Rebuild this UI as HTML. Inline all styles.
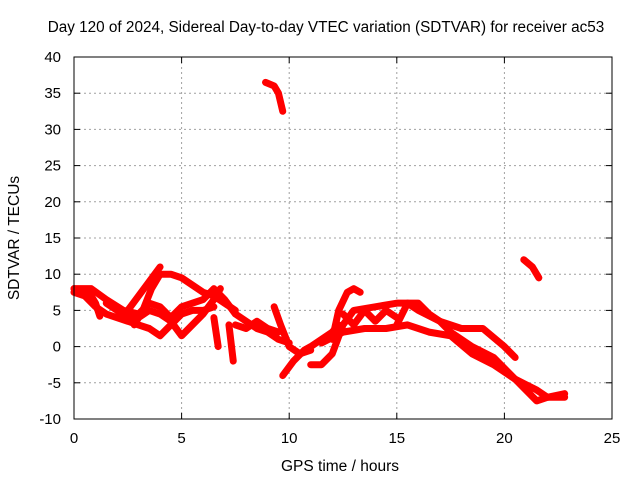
<!DOCTYPE html>
<html><head><meta charset="utf-8"><style>
body{margin:0;background:#fff}
text{font-family:"Liberation Sans",sans-serif;font-size:15px;fill:#000}
</style></head><body>
<svg id="chart" width="640" height="480" xmlns="http://www.w3.org/2000/svg">
<text x="326" y="32" text-anchor="middle" style="font-size:15.3px">Day 120 of 2024, Sidereal Day-to-day VTEC variation (SDTVAR) for receiver ac53</text>
<text x="340" y="471" text-anchor="middle" style="font-size:15.5px">GPS time / hours</text>
<text transform="translate(19,238) rotate(-90)" text-anchor="middle" style="font-size:15.5px">SDTVAR / TECUs</text>
<g id="grid"></g><g id="marks"></g>
<rect x="74" y="57" width="538" height="362" fill="none" stroke="#000" stroke-width="1"/>
</svg>
<script>
const xTicks=[0,5,10,15,20,25];
const yTicks=[-10,-5,0,5,10,15,20,25,30,35,40];
const track1=[[0,8],[0.8,8],[1.5,6.5],[2.3,5],[3,4.5],[3.5,6],[4,5.5],[4.5,4],[5,5.5],[5.5,6],[6,6.5],[6.5,8],[7,6.5],[7.5,4.5],[8,3.5],[8.5,2.5],[9,2],[9.5,1],[10,0.5]];
const track2=[[0,7.5],[0.5,7],[1,5.5],[1.5,4.5],[2,4],[2.5,3.5],[3,3],[3.5,2.5],[4,1.5],[4.5,3],[5,4.5],[5.5,5],[6,5],[6.5,5.5]];
const track3=[[2.8,3],[3.2,5],[3.6,8],[4,10],[4.5,10],[5,9.5],[5.5,8.5],[6,7.5],[6.5,7],[7,6],[7.5,5]];
const track4=[[2.5,5],[3,7],[3.5,9],[4,11]];
const track5=[[1.5,6],[2,5],[2.5,4],[3,4],[3.5,5],[4,4.5],[4.5,3.5],[5,1.5],[5.5,3],[6,4.5],[6.5,6.5],[6.8,8]];
const track6=[[6.5,4],[6.7,0]];
const track7=[[7.2,3],[7.4,-2]];
const track8=[[0,8],[0.7,7.5],[1,6],[1.2,4.2]];
const track9=[[9.3,5.5],[9.6,3],[10,0],[10.5,-1],[11,-0.5]];
const track10=[[9.7,-4],[10.2,-2],[10.7,-0.5],[11,0],[11.5,1],[12,2],[12.3,3]];
const track11=[[11,-2.5],[11.5,-2.5],[12,-1],[12.5,3],[13,5],[14,5.5],[15,6],[16,6],[16.5,4.5],[17,3.5],[18,2.5],[19,2.5],[20,0],[20.5,-1.5]];
const track12=[[12,1],[12.3,5],[12.7,7.5],[13,8],[13.3,7.5]];
const track13=[[11.5,0.5],[12.5,2],[13.5,2.5],[14.5,2.5],[15.5,3],[16.5,2],[17.5,1.5],[18.5,-1],[19.5,-2.5],[20.5,-4.5],[21.5,-6],[22,-7],[22.8,-6.5]];
const track14=[[15,3],[15.5,6],[16,5],[17,3.5],[17.5,2],[18.5,0],[19.5,-1.5],[20,-3],[20.5,-4.5],[21.5,-7.5],[22,-7],[22.8,-7]];
const track15=[[8.9,36.5],[9.3,36],[9.5,35],[9.7,32.5]];
const track16=[[20.9,12],[21.3,11],[21.6,9.5]];
const track17=[[7.5,3],[8,2.5],[8.5,3.5],[9,2.5],[9.5,2]];
const track18=[[12.5,4.5],[13,3],[13.5,5],[14,3.5],[14.5,5],[15,4]];
const tracks=[track1,track2,track3,track4,track5,track6,track7,track8,track9,track10,track11,track12,track13,track14,track15,track16,track17,track18];
const X=h=>74+h*538/25, Y=v=>419-(v+10)*362/50;
const NS="http://www.w3.org/2000/svg";
const grid=document.getElementById('grid'), marks=document.getElementById('marks');
function mk(t,a,p){const e=document.createElementNS(NS,t);for(const k in a)e.setAttribute(k,a[k]);p.appendChild(e);return e;}
xTicks.forEach(t=>{
 if(t>0&&t<25){const l=mk('line',{x1:X(t),x2:X(t),y1:57,y2:419,stroke:'#a0a0a0','stroke-dasharray':'2,3'},grid);
 
 }
 mk('line',{x1:X(t),x2:X(t),y1:419,y2:413,stroke:'#000'},grid);
 mk('line',{x1:X(t),x2:X(t),y1:57,y2:63,stroke:'#000'},grid);
 const tx=mk('text',{x:X(t),y:443,'text-anchor':'middle'},grid);tx.textContent=t;
 
 
});
yTicks.forEach(t=>{
 if(t>-10&&t<40){const l=mk('line',{x1:74,x2:612,y1:Y(t),y2:Y(t),stroke:'#a0a0a0','stroke-dasharray':'2,3'},grid);
 
 }
 mk('line',{x1:74,x2:80,y1:Y(t),y2:Y(t),stroke:'#000'},grid);
 mk('line',{x1:606,x2:612,y1:Y(t),y2:Y(t),stroke:'#000'},grid);
 const tx=mk('text',{x:61,y:Y(t)+5,'text-anchor':'end'},grid);tx.textContent=t;
 
 
});
tracks.forEach(tr=>{
 const p=mk('polyline',{points:tr.map(d=>X(d[0])+','+Y(d[1])).join(' '),fill:'none',stroke:'#ff0000','stroke-width':7,'stroke-linejoin':'round','stroke-linecap':'round'},marks);
 
 
});
</script>
</body></html>
